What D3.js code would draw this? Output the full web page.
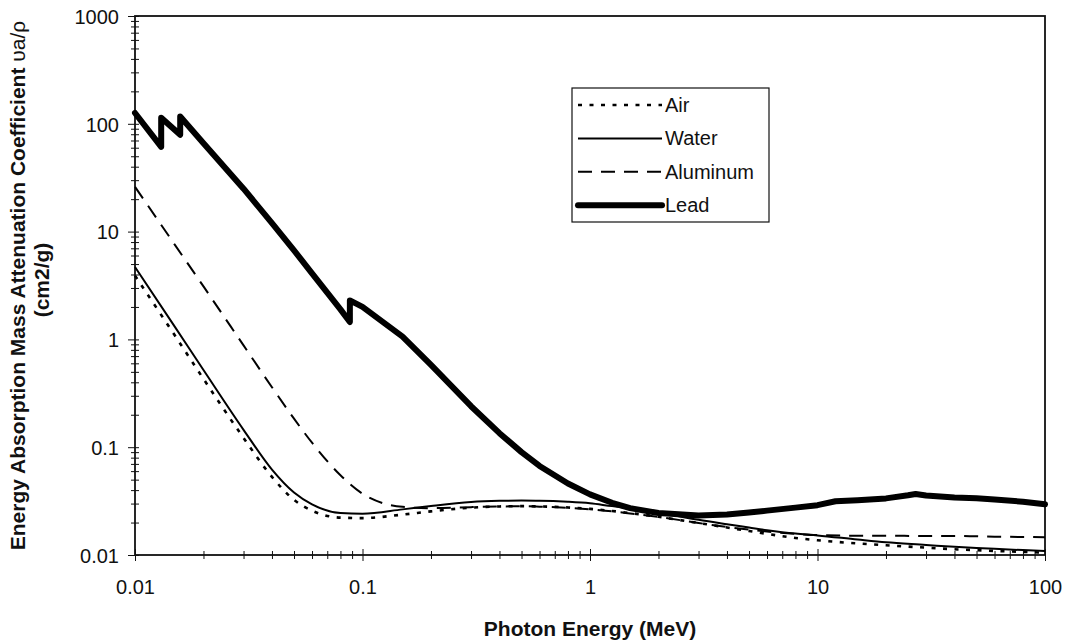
<!DOCTYPE html>
<html>
<head>
<meta charset="utf-8">
<script src="https://cdn.jsdelivr.net/npm/d3@7"></script>
<style>
  body { margin: 0; background: #fff; }
  svg { display: block; font-family: "Liberation Sans", Arial, sans-serif; }
</style>
</head>
<body>
<svg width="1065" height="640"></svg>
<script>
// photon energies (MeV) shared by air, water, aluminum
const energy = [0.01, 0.015, 0.02, 0.03, 0.04, 0.05, 0.06, 0.08, 0.1, 0.15, 0.2, 0.3, 0.4, 0.5, 0.6, 0.8,
  1, 1.25, 1.5, 2, 3, 4, 5, 6, 8, 10, 15, 20, 30, 40, 50, 60, 80, 100];

const air = [3.9, 1.08, 0.43, 0.122, 0.053, 0.0325, 0.0258, 0.0222, 0.022, 0.0237, 0.0254, 0.0275, 0.0282, 0.0284, 0.0282, 0.0276,
  0.0268, 0.0256, 0.0245, 0.0226, 0.0198, 0.018, 0.0167, 0.0157, 0.0144, 0.0137, 0.0128, 0.0123, 0.0117, 0.0113, 0.0111, 0.0109, 0.0107, 0.0105];

const water = [4.7, 1.3, 0.52, 0.145, 0.062, 0.038, 0.0295, 0.0245, 0.0242, 0.0265, 0.0285, 0.031, 0.0318, 0.032, 0.0319, 0.0312,
  0.0302, 0.0284, 0.0272, 0.0248, 0.0212, 0.0193, 0.018, 0.017, 0.0158, 0.0152, 0.0139, 0.0131, 0.0124, 0.0119, 0.0116, 0.0114, 0.0111, 0.0109];

const aluminum = [26, 7.5, 3.1, 0.88, 0.36, 0.184, 0.11, 0.055, 0.037, 0.028, 0.0272, 0.0278, 0.0282, 0.0283, 0.0281, 0.0274,
  0.0265, 0.0254, 0.0243, 0.0226, 0.0198, 0.0182, 0.0172, 0.0165, 0.0157, 0.0153, 0.0151, 0.0151, 0.015, 0.015, 0.0149, 0.0148, 0.0147, 0.0146];

// lead has its own grid because of the L and K absorption edges
const leadEnergy = [0.01, 0.013035, 0.013035, 0.0158, 0.0158, 0.02, 0.03, 0.04, 0.05, 0.06, 0.08, 0.088, 0.088, 0.1, 0.15, 0.2,
  0.3, 0.4, 0.5, 0.6, 0.8, 1, 1.25, 1.5, 2, 3, 4, 5, 6, 8, 10, 12, 15, 20, 25, 27, 30, 40, 50, 60, 80, 100];
const lead = [126, 61, 114, 79, 117, 66, 25, 12, 6.7, 4.1, 1.9, 1.45, 2.3, 2.0, 1.06, 0.58,
  0.24, 0.135, 0.09, 0.067, 0.046, 0.0365, 0.0305, 0.0272, 0.0245, 0.0232, 0.0238, 0.0248, 0.0258, 0.0275, 0.029, 0.0315, 0.0322, 0.0335, 0.0358, 0.0368, 0.0356, 0.0342, 0.0336, 0.0328, 0.0312, 0.0295];

const xTicks = [0.01, 0.1, 1, 10, 100];
const yTicks = [0.01, 0.1, 1, 10, 100, 1000];
const seriesNames = ["Air", "Water", "Aluminum", "Lead"];

const svg = d3.select("svg");
const plotLeft = 135, plotRight = 1045, plotTop = 16, plotBottom = 555;

const x = d3.scaleLog().domain([0.01, 100]).range([plotLeft, plotRight]);
const y = d3.scaleLog().domain([0.01, 1000]).range([plotBottom, plotTop]);
const fmt = d3.format("~g");

const isDecade = v => Math.abs(Math.log10(v) - Math.round(Math.log10(v))) < 1e-9;
const xMinor = x.ticks().filter(v => !isDecade(v));
const yMinor = y.ticks().filter(v => !isDecade(v));

// frame
svg.append("rect")
  .attr("x", plotLeft).attr("y", plotTop)
  .attr("width", plotRight - plotLeft).attr("height", plotBottom - plotTop)
  .attr("fill", "none").attr("stroke", "#111").attr("stroke-width", 1.8);

// x axis
const xAxis = svg.append("g").attr("transform", `translate(0,${plotBottom})`)
  .call(d3.axisBottom(x).tickValues(xTicks).tickFormat(fmt).tickSizeOuter(0).tickSize(6));
xAxis.select(".domain").remove();
xAxis.selectAll(".tick line").attr("y1", -6).attr("y2", 6).attr("stroke", "#111");
xAxis.selectAll(".tick text").attr("y", 39).attr("dy", null)
  .attr("font-size", 20).attr("font-family", "Liberation Sans, Arial").attr("fill", "#111");

const xMinorAxis = svg.append("g").attr("transform", `translate(0,${plotBottom})`)
  .call(d3.axisBottom(x).tickValues(xMinor).tickFormat("").tickSizeOuter(0).tickSize(4));
xMinorAxis.select(".domain").remove();
xMinorAxis.selectAll(".tick line").attr("y1", -4).attr("stroke", "#111");

// y axis
const yAxis = svg.append("g").attr("transform", `translate(${plotLeft},0)`)
  .call(d3.axisLeft(y).tickValues(yTicks).tickFormat(fmt).tickSizeOuter(0).tickSize(7).tickPadding(9));
yAxis.select(".domain").remove();
yAxis.selectAll(".tick line").attr("x1", 4).attr("stroke", "#111");
yAxis.selectAll(".tick text").attr("dy", "0.36em")
  .attr("font-size", 20).attr("font-family", "Liberation Sans, Arial").attr("fill", "#111");

const yMinorAxis = svg.append("g").attr("transform", `translate(${plotLeft},0)`)
  .call(d3.axisLeft(y).tickValues(yMinor).tickFormat("").tickSizeOuter(0).tickSize(4));
yMinorAxis.select(".domain").remove();
yMinorAxis.selectAll(".tick line").attr("x1", 4).attr("stroke", "#111");

// series
const styles = {
  Air: { width: 2.6, dash: "4,7.5", cap: "butt" },
  Water: { width: 2, dash: null, cap: "butt" },
  Aluminum: { width: 2, dash: "14,9", cap: "butt" },
  Lead: { width: 6, dash: null, cap: "round" }
};

const data = {
  Air: d3.zip(energy, air),
  Water: d3.zip(energy, water),
  Aluminum: d3.zip(energy, aluminum),
  Lead: d3.zip(leadEnergy, lead)
};

const smooth = d3.line().x(d => x(d[0])).y(d => y(d[1])).curve(d3.curveMonotoneX);
const straight = d3.line().x(d => x(d[0])).y(d => y(d[1]));

const plot = svg.append("g");
seriesNames.forEach(name => {
  plot.append("path")
    .datum(data[name])
    .attr("d", name === "Lead" ? straight : smooth)
    .attr("fill", "none")
    .attr("stroke", "#000")
    .attr("stroke-width", styles[name].width)
    .attr("stroke-dasharray", styles[name].dash)
    .attr("stroke-linejoin", "round")
    .attr("stroke-linecap", styles[name].cap);
});

// legend
const legend = svg.append("g");
legend.append("rect")
  .attr("x", 572).attr("y", 88).attr("width", 197).attr("height", 134)
  .attr("fill", "#fff").attr("stroke", "#111").attr("stroke-width", 1.2);

const rows = legend.selectAll("g.row")
  .data(seriesNames)
  .join("g")
  .attr("class", "row")
  .attr("transform", (d, i) => `translate(0,${105 + i * 33.4})`);

rows.append("line")
  .attr("x1", 578).attr("x2", 662)
  .attr("stroke", "#000")
  .attr("stroke-width", d => styles[d].width)
  .attr("stroke-dasharray", d => styles[d].dash)
  .attr("stroke-linecap", d => styles[d].cap);

rows.append("text")
  .attr("x", 665).attr("y", 7)
  .attr("font-size", 20)
  .attr("fill", "#111")
  .text(d => d);

// axis titles
svg.append("text")
  .attr("x", (plotLeft + plotRight) / 2).attr("y", 636)
  .attr("text-anchor", "middle")
  .attr("font-size", 21).attr("font-weight", "bold").attr("fill", "#111")
  .text("Photon Energy (MeV)");

const yTitle = svg.append("text")
  .attr("transform", `translate(25,${(plotTop + plotBottom) / 2}) rotate(-90)`)
  .attr("text-anchor", "middle")
  .attr("font-size", 21).attr("font-weight", "bold").attr("fill", "#111");
yTitle.append("tspan").text("Energy Absorption Mass Attenuation Coefficient ");
yTitle.append("tspan").attr("font-weight", "normal").text("υa/ρ");

svg.append("text")
  .attr("transform", `translate(49,280) rotate(-90)`)
  .attr("text-anchor", "middle")
  .attr("font-size", 21).attr("font-weight", "bold").attr("fill", "#111")
  .text("(cm2/g)");
</script>
</body>
</html>
